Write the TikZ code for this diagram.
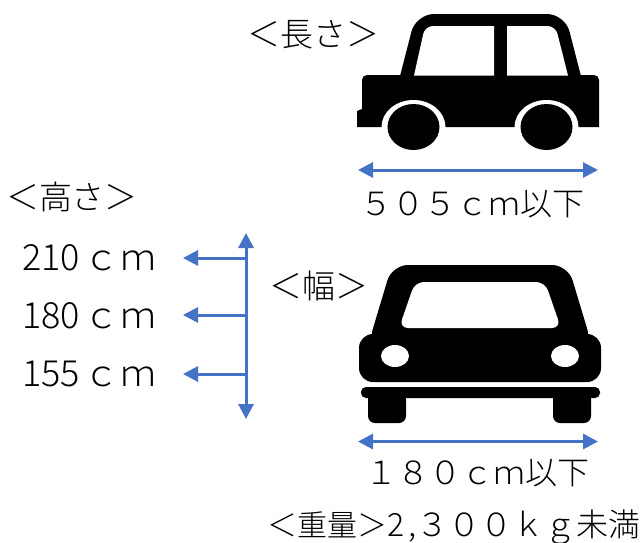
\documentclass[tikz,border=0pt]{standalone}
\usepackage{fontspec}
\setmainfont{Noto Sans CJK JP}[UprightFont=* Light]
\usepackage{xcolor}
\usetikzlibrary{positioning,arrows.meta}
\definecolor{dimblue}{HTML}{4472C4}
\tikzset{
    dimline/.style={draw=dimblue, line width=3pt, {Triangle[length=15pt,width=15pt]}-{Triangle[length=15pt,width=15pt]}},
    dimbranch/.style={draw=dimblue, line width=3pt, -{Triangle[length=15pt,width=15pt]}},
    headlabel/.style={inner sep=0pt, font=\fontsize{33}{33}\selectfont},
    biglabel/.style={inner sep=0pt, font=\fontsize{32}{32}\selectfont},
    heightlabel/.style={inner sep=0pt, anchor=west, font=\fontsize{36}{36}\selectfont},
    carbody/.style={fill=black, rounded corners=5pt}
}

\begin{document}
\begin{tikzpicture}[x=1pt,y=-1pt]
    \useasboundingbox (0,0) rectangle (641,542);

    % Side view
    \fill[black] (399,80) [rounded corners=18pt] -- (416,14) -- (565,14) [sharp corners] -- (582,80) -- cycle;
    \fill[carbody] (357,127) [sharp corners] -- (357,111) -- (362,109) [rounded corners=5pt] -- (362,75) -- (599,75) [sharp corners] -- (599,127) -- cycle;
    \fill[white] (414,75.5) [rounded corners=8pt] -- (425,26) [sharp corners] -- (494,26) -- (494,75.5) -- cycle;
    \fill[white] (507,75.5) -- (507,26) [rounded corners=8pt] -- (555.5,26) [sharp corners] -- (568,75.5) -- cycle;
    \fill[white] (413.5,127) ellipse [x radius=32, y radius=27];
    \fill[white] (546.5,127) ellipse [x radius=32, y radius=27];
    \fill (413.5,127) ellipse [x radius=26, y radius=23];
    \fill (546.5,127) ellipse [x radius=26, y radius=23];

    % Front view
    \fill[carbody, rounded corners=16pt] (392,265) -- (568,265) -- (592,345) -- (368,345) -- cycle;
    \fill[carbody, rounded corners=14pt] (359,382) -- (359,334) -- (601,334) -- (601,382) -- cycle;
    \fill[white, rounded corners=9pt] (415,282) -- (545,282) -- (561,328) -- (399,328) -- cycle;
    \fill[white] (395,356) ellipse [x radius=14, y radius=11];
    \fill[white] (565,356) ellipse [x radius=14, y radius=11];
    \fill[carbody] (361,387) -- (600,387) -- (600,398) -- (361,398) -- cycle;
    \fill[carbody, rounded corners=7pt] (368,392) -- (406,392) -- (406,423) -- (368,423) -- cycle;
    \fill[carbody, rounded corners=7pt] (553,392) -- (591,392) -- (591,423) -- (553,423) -- cycle;

    % Labels
    \node[headlabel] (lenhead) at (313,35) {＜長さ＞};
    \node[biglabel] (lenval) at (472,204) {５０５ｃｍ以下};
    \node[headlabel] (tallhead) at (72,197) {＜高さ＞};
    \node[headlabel] (widehead) at (319,286) {＜幅＞};
    \node[biglabel] (wideval) at (477,473) {１８０ｃｍ以下};
    \node[biglabel, anchor=east] (weight) at (641,527) {{\fontsize{30}{30}\selectfont ＜重量＞}2\hspace{4pt},３００ｋｇ未満};
    \node[heightlabel] (tall1) at (22,258) {210\hspace{4pt}ｃ\hspace{1pt}ｍ};
    \node[heightlabel] (tall2) at (22,316) {180\hspace{4pt}ｃ\hspace{1pt}ｍ};
    \node[heightlabel] (tall3) at (22,374) {155\hspace{4pt}ｃ\hspace{1pt}ｍ};

    % Dimension arrows
    \coordinate (lenL) at (358,170);
    \coordinate (lenR) at (598,170);
    \draw[dimline] (lenL) -- (lenR);
    \coordinate (wideL) at (358,441.5);
    \coordinate (wideR) at (598,441.5);
    \draw[dimline] (wideL) -- (wideR);
    \coordinate (tallT) at (246,233);
    \coordinate (tallB) at (246,419);
    \draw[dimline] (tallT) -- (tallB);
    \foreach \yy in {258,315,374} {
        \coordinate (tip) at (183,\yy);
        \coordinate (foot) at (246,\yy);
        \draw[dimbranch] (foot) -- (tip);
    }

\end{tikzpicture}
\end{document}
